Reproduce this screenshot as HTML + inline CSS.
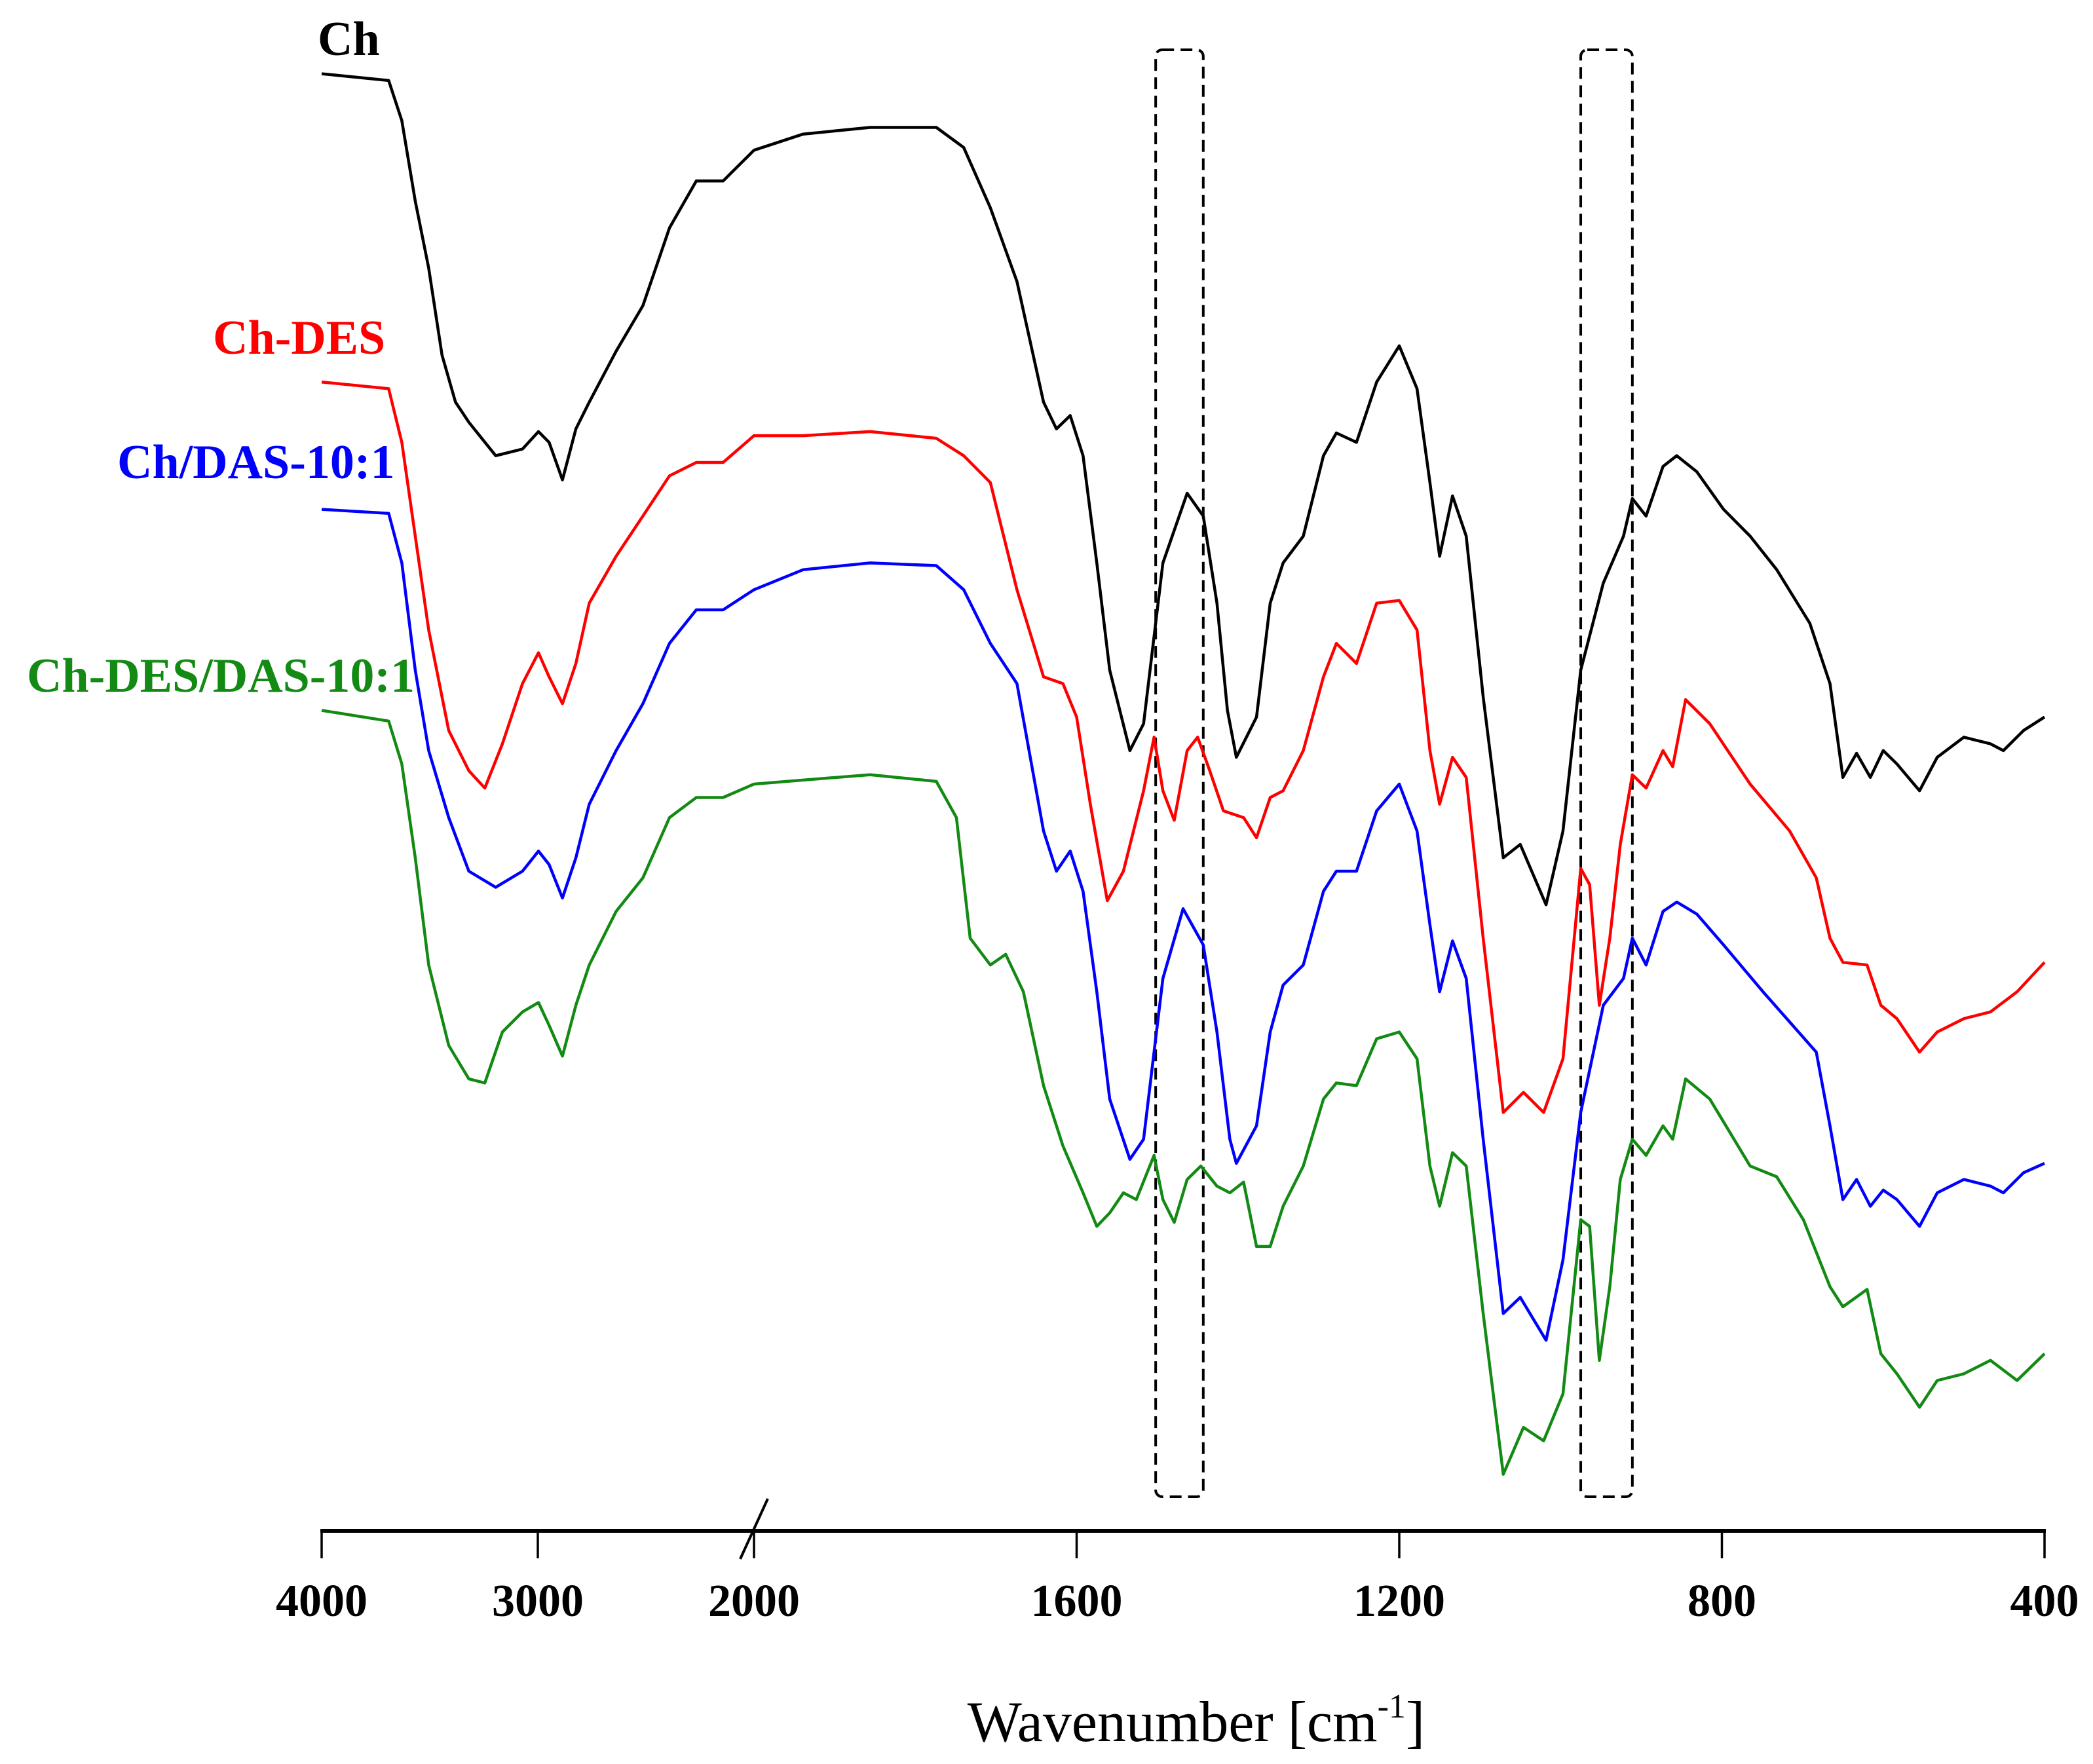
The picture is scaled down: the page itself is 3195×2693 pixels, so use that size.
<!DOCTYPE html>
<html><head><meta charset="utf-8"><style>
html,body{margin:0;padding:0;background:#fff;}
svg{display:block;}
text{font-family:"Liberation Serif",serif;}
</style></head><body>
<svg id="chart" width="3195" height="2693" viewBox="0 0 3195 2693" xmlns="http://www.w3.org/2000/svg">
<rect width="3195" height="2693" fill="#fff"/>
<g id="boxes"></g>
<g id="series"></g>
<g id="axis"></g>
<text x="485" y="84" font-size="74" font-weight="bold" fill="#000">Ch</text>
<text x="325" y="540" font-size="74" font-weight="bold" fill="#ff0000">Ch-DES</text>
<text x="179" y="730" font-size="74" font-weight="bold" fill="#0000ff">Ch/DAS-10:1</text>
<text x="41" y="1056" font-size="74" font-weight="bold" fill="#138a13">Ch-DES/DAS-10:1</text>
<text x="1826" y="2658" font-size="88" text-anchor="middle">Wavenumber [cm<tspan dy="-36" font-size="52">-1</tspan><tspan dy="36">]</tspan></text>
</svg>
<script>
const ticks = [4000, 3000, 2000, 1600, 1200, 800, 400];
const boxRanges = [[1502, 1443], [975, 911]];
const chWn = [4000,3690,3629,3567,3505,3443,3381,3319,3195,3071,2997,2948,2886,2824,2762,2638,2514,2391,2267,2143,2000,1939,1856,1774,1740,1707,1674,1641,1625,1608,1592,1575,1559,1534,1517,1493,1463,1443,1426,1413,1402,1377,1360,1344,1319,1294,1278,1253,1228,1200,1178,1162,1150,1134,1117,1096,1071,1050,1018,997,975,947,922,911,894,873,856,831,798,765,732,691,666,650,633,616,600,583,555,533,500,467,451,426,400];
const chVal = [1095,1090,1060,1000,950,885,850,835,810,815,828,820,792,830,850,888,922,980,1015,1015,1038,1050,1055,1055,1040,995,940,850,830,840,810,730,650,590,610,730,782,765,700,620,585,615,700,730,750,810,827,820,865,892,860,790,735,780,750,630,510,520,475,530,650,715,750,778,765,802,810,798,770,750,725,685,640,570,588,570,590,580,560,585,600,595,590,605,615];
const desWn = [4000,3690,3629,3567,3505,3412,3319,3245,3164,3071,2997,2948,2886,2824,2762,2638,2514,2391,2267,2143,2000,1939,1856,1774,1740,1707,1674,1641,1617,1600,1583,1562,1542,1517,1504,1493,1479,1463,1450,1435,1418,1393,1377,1360,1344,1319,1294,1278,1253,1228,1200,1178,1162,1150,1134,1117,1096,1071,1046,1021,997,975,964,952,939,926,911,894,873,861,845,815,765,716,683,666,650,620,603,583,555,533,500,467,434,400];
const desVal = [865,860,820,750,680,605,575,562,595,640,663,645,625,655,700,735,765,795,805,805,825,825,828,823,810,790,710,645,640,615,550,478,500,560,600,560,538,590,600,575,545,540,525,555,560,590,645,670,655,700,702,680,590,550,585,570,450,320,335,320,360,502,490,400,450,520,572,562,590,578,628,610,565,530,495,450,432,430,400,390,365,380,390,395,410,432];
const dasWn = [4000,3690,3629,3567,3505,3412,3319,3195,3071,2997,2948,2886,2824,2762,2638,2514,2391,2267,2143,2000,1939,1856,1774,1740,1707,1674,1641,1625,1608,1592,1575,1559,1534,1517,1493,1468,1443,1426,1410,1402,1377,1360,1344,1319,1294,1278,1253,1228,1200,1178,1162,1150,1134,1117,1096,1071,1050,1018,997,975,947,922,911,894,873,856,831,798,749,683,666,650,633,616,600,583,555,533,500,467,451,426,400];
const dasVal = [770,767,730,650,590,540,500,488,500,515,505,480,510,550,590,625,670,695,695,710,725,730,728,710,670,640,530,500,515,485,410,330,285,300,420,472,445,380,300,282,310,380,415,430,485,500,500,545,565,530,460,410,448,420,300,170,182,150,210,320,400,420,450,430,470,477,468,445,410,365,310,255,270,250,262,255,235,260,270,265,260,275,282];
const mixWn = [4000,3690,3629,3567,3505,3412,3319,3245,3164,3071,2997,2948,2886,2824,2762,2638,2514,2391,2267,2143,2000,1939,1856,1774,1749,1732,1707,1688,1666,1641,1617,1592,1575,1559,1542,1526,1504,1493,1479,1463,1446,1426,1410,1393,1377,1360,1344,1319,1294,1278,1253,1228,1200,1178,1162,1150,1134,1117,1096,1071,1046,1021,997,975,964,952,939,926,911,894,873,861,845,815,765,732,699,666,650,620,603,583,555,533,500,467,434,400];
const mixVal = [620,612,580,510,430,370,345,342,380,395,402,385,362,400,430,470,495,540,555,555,565,568,572,567,540,450,430,438,410,340,295,260,235,245,260,255,288,255,238,270,280,265,260,268,220,220,250,280,330,342,340,375,380,360,280,250,290,280,170,50,85,75,110,240,235,135,190,270,300,288,310,300,345,330,280,272,240,190,175,188,140,125,100,120,125,135,120,140];

const NS = "http://www.w3.org/2000/svg";
const X0 = 491, XB = 1151, X1 = 3121;
const AXY = 2337;
function xScale(wn) {
  if (wn >= 2000) return X0 + (4000 - wn) / 2000 * (XB - X0);
  return XB + (2000 - wn) / 1600 * (X1 - XB);
}
function yScale(v) { return 2353 - 2.046 * v; }

const seriesG = document.getElementById('series');
function drawSeries(wn, vals, color, name) {
  let d = '';
  for (let i = 0; i < wn.length; i++) {
    d += (i ? 'L' : 'M') + xScale(wn[i]).toFixed(1) + ' ' + yScale(vals[i]).toFixed(1);
  }
  const p = document.createElementNS(NS, 'path');
  p.setAttribute('d', d);
  p.setAttribute('fill', 'none');
  p.setAttribute('stroke', color);
  p.setAttribute('stroke-width', '4.5');
  p.setAttribute('stroke-linejoin', 'round');
  
  
  seriesG.appendChild(p);
}
drawSeries(chWn, chVal, '#000', 'series-ch');
drawSeries(desWn, desVal, '#ff0000', 'series-ch-des');
drawSeries(dasWn, dasVal, '#0000ff', 'series-ch-das');
drawSeries(mixWn, mixVal, '#138a13', 'series-ch-des-das');

const boxG = document.getElementById('boxes');
boxRanges.forEach((r, i) => {
  const xa = xScale(r[0]), xb = xScale(r[1]);
  const rect = document.createElementNS(NS, 'rect');
  rect.setAttribute('x', xa); rect.setAttribute('y', 76);
  rect.setAttribute('width', xb - xa); rect.setAttribute('height', 2209);
  rect.setAttribute('rx', 10);
  rect.setAttribute('fill', 'none'); rect.setAttribute('stroke', '#000');
  rect.setAttribute('stroke-width', '4'); rect.setAttribute('stroke-dasharray', '18 10');
  
  
  boxG.appendChild(rect);
});

const axisG = document.getElementById('axis');
const axisLine = document.createElementNS(NS, 'line');
axisLine.setAttribute('x1', X0 - 2); axisLine.setAttribute('x2', X1 + 2);
axisLine.setAttribute('y1', AXY); axisLine.setAttribute('y2', AXY);
axisLine.setAttribute('stroke', '#000'); axisLine.setAttribute('stroke-width', '6');


axisG.appendChild(axisLine);
ticks.forEach(t => {
  const x = xScale(t);
  const ln = document.createElementNS(NS, 'line');
  ln.setAttribute('x1', x); ln.setAttribute('x2', x);
  ln.setAttribute('y1', AXY); ln.setAttribute('y2', AXY + 42);
  ln.setAttribute('stroke', '#000'); ln.setAttribute('stroke-width', '3.5');
  
  
  axisG.appendChild(ln);
  const tx = document.createElementNS(NS, 'text');
  tx.setAttribute('x', x); tx.setAttribute('y', 2467);
  tx.setAttribute('text-anchor', 'middle');
  tx.setAttribute('font-size', '70'); tx.setAttribute('font-weight', 'bold');
  tx.textContent = t;
  
  
  axisG.appendChild(tx);
});
const brk = document.createElementNS(NS, 'line');
brk.setAttribute('x1', 1130); brk.setAttribute('y1', AXY + 43);
brk.setAttribute('x2', 1172); brk.setAttribute('y2', AXY - 49);
brk.setAttribute('stroke', '#000'); brk.setAttribute('stroke-width', '4');


axisG.appendChild(brk);
</script>
</body></html>
